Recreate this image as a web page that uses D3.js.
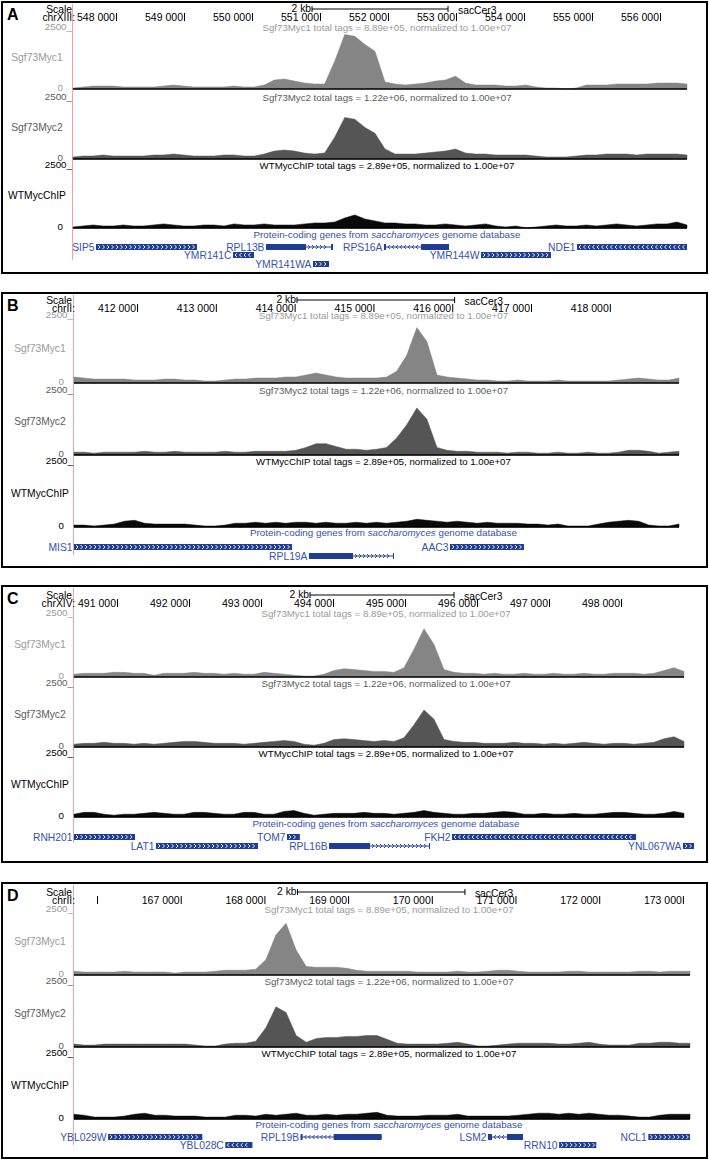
<!DOCTYPE html>
<html><head><meta charset="utf-8">
<script src="https://cdn.jsdelivr.net/npm/d3@7"></script>
<style>body{margin:0;background:#fff;} svg{display:block;}</style>
</head><body><svg id="c" width="709" height="1161"></svg>
<script>
// ---------------- data ----------------
const panelLetters = ["A", "B", "C", "D"];
const chromLabels = ["chrXIII:", "chrII:", "chrXIV:", "chrII:"];
const windowStarts = [547368, 411200, 490403, 165725];
const windowEnds = [556397, 418878, 498875, 173085];
const ticksA = [548000, 549000, 550000, 551000, 552000, 553000, 554000, 555000, 556000];
const ticksB = [412000, 413000, 414000, 415000, 416000, 417000, 418000];
const ticksC = [491000, 492000, 493000, 494000, 495000, 496000, 497000, 498000];
const ticksD = [166000, 167000, 168000, 169000, 170000, 171000, 172000, 173000];
const tickLabelsA = ["548 000", "549 000", "550 000", "551 000", "552 000", "553 000", "554 000", "555 000", "556 000"];
const tickLabelsB = ["412 000", "413 000", "414 000", "415 000", "416 000", "417 000", "418 000"];
const tickLabelsC = ["491 000", "492 000", "493 000", "494 000", "495 000", "496 000", "497 000", "498 000"];
const tickLabelsD = ["", "167 000", "168 000", "169 000", "170 000", "171 000", "172 000", "173 000"];
const scaleBarStarts = [550883, 414030, 493681, 168396];
const scaleBarLength = 2000;
const trackNames = ["Sgf73Myc1", "Sgf73Myc2", "WTMycChIP"];
const totalTags = ["8.89e+05", "1.22e+06", "2.89e+05"];
const normalizedTo = "1.00e+07";
const viewMax = 2500;

// signal values (normalized tags), evenly spaced bins across each window
const myc1A = [40,85,125,125,125,85,85,85,85,125,170,125,85,85,85,85,125,85,85,170,380,420,335,250,210,210,1180,2310,2230,1890,1600,295,210,170,210,250,335,380,545,250,170,170,170,125,125,170,85,40,40,0,40,170,170,170,210,210,210,210,250,250,250,210];
const myc2A = [85,125,125,170,125,125,125,125,170,170,210,170,125,125,125,170,170,125,125,210,335,380,335,250,210,250,925,1760,1680,1340,1090,420,210,210,210,250,295,335,420,250,210,210,170,170,170,170,125,85,85,85,125,170,170,210,210,210,170,210,210,210,210,170];
const wtA = [40,85,125,85,85,125,85,85,125,170,125,85,85,125,125,85,170,125,125,170,125,125,125,170,210,210,250,420,545,380,295,210,210,170,170,125,125,170,125,85,125,170,85,40,85,0,40,85,125,85,85,125,85,125,170,125,85,125,170,170,250,125];

const myc1B = [230,190,150,150,150,150,115,115,115,150,150,115,115,75,75,115,150,150,190,190,190,230,230,305,380,305,230,190,190,190,190,230,455,1065,2130,1595,305,230,190,150,115,115,75,75,115,75,75,75,115,75,75,75,75,75,115,150,190,150,115,115,190];
const myc2B = [115,115,75,115,115,115,115,150,115,115,150,115,115,115,115,150,115,115,150,150,150,150,190,305,455,455,340,230,230,190,230,305,685,1215,1900,1445,305,190,150,150,115,115,115,75,115,115,75,75,115,75,75,115,75,75,115,190,190,150,75,115,150];
const wtB = [75,75,40,75,115,230,265,150,115,115,115,115,75,40,40,75,150,150,190,150,190,150,190,190,150,190,150,150,190,150,190,150,190,230,305,265,230,190,230,190,150,190,150,150,150,115,115,75,115,40,40,40,115,190,230,265,230,75,40,40,115];

const myc1C = [115,150,150,150,190,190,150,150,75,150,150,150,190,150,150,115,150,115,115,190,150,115,75,40,40,115,265,340,305,265,230,230,190,380,1140,1975,1330,305,190,150,150,115,150,115,115,150,115,115,150,115,115,150,115,115,150,150,150,115,150,265,380,230];
const myc2C = [115,150,150,190,150,150,115,150,115,150,190,230,230,190,150,150,150,115,150,190,230,265,230,115,75,150,305,340,305,265,230,265,230,380,910,1520,1140,305,230,190,190,150,150,150,190,150,150,115,150,115,150,190,150,115,150,150,115,150,190,340,420,230];
const wtC = [115,190,190,115,75,115,115,150,190,150,115,115,190,190,150,115,115,190,190,115,115,230,265,150,75,115,150,150,150,190,150,150,115,150,190,265,190,150,115,115,150,150,190,230,190,115,115,150,115,115,150,115,115,150,190,190,150,115,115,150,230,150];

const myc1D = [150,115,115,115,115,150,115,115,115,115,75,115,115,115,150,190,190,190,230,610,1595,2050,990,340,305,305,305,265,190,150,150,150,150,150,115,115,115,115,150,115,115,150,190,190,150,115,115,115,115,150,150,115,115,115,115,115,150,150,115,150,150,150];
const myc2D = [115,75,75,115,115,115,115,115,115,115,115,115,75,40,40,115,150,150,230,760,1595,1370,455,190,340,380,380,420,420,455,455,305,150,115,115,115,115,150,190,115,40,40,75,115,150,150,150,150,115,115,150,190,115,75,75,75,150,150,190,190,150,150];
const wtD = [190,150,75,75,75,115,190,230,150,150,115,115,115,75,75,75,150,150,115,190,150,190,230,150,150,190,150,190,190,230,265,150,115,115,115,150,150,150,190,115,115,115,115,115,150,190,230,230,190,230,190,230,190,150,150,115,75,75,150,190,190,190];

const genesA = [
  {name: "SIP5", start: 547706, end: 549192, strand: "+", row: 0},
  {name: "YMR141C", start: 549721, end: 550030, strand: "-", row: 1},
  {name: "RPL13B", start: 550206, end: 551192, strand: "+", row: 0, exons: [[550206, 550794], [551163, 551192]]},
  {name: "YMR141WA", start: 550897, end: 551133, strand: "+", row: 2},
  {name: "RPS16A", start: 551941, end: 552897, strand: "-", row: 0, exons: [[551941, 551970], [552486, 552897]]},
  {name: "YMR144W", start: 553368, end: 554397, strand: "+", row: 1},
  {name: "NDE1", start: 554780, end: 556397, strand: "-", row: 0}
];
const genesB = [
  {name: "MIS1", start: 411100, end: 413967, strand: "+", row: 0},
  {name: "RPL19A", start: 414182, end: 415261, strand: "+", row: 1, exons: [[414182, 414741], [415248, 415261]]},
  {name: "AAC3", start: 415971, end: 416911, strand: "+", row: 0}
];
const genesC = [
  {name: "RNH201", start: 490300, end: 491250, strand: "+", row: 0},
  {name: "LAT1", start: 491542, end: 492959, strand: "+", row: 1},
  {name: "TOM7", start: 493361, end: 493540, strand: "+", row: 0},
  {name: "RPL16B", start: 493945, end: 495348, strand: "+", row: 1, exons: [[493945, 494514], [495334, 495348]]},
  {name: "FKH2", start: 495653, end: 498209, strand: "-", row: 0},
  {name: "YNL067WA", start: 498861, end: 499014, strand: "+", row: 1}
];
const genesD = [
  {name: "YBL029W", start: 166132, end: 167258, strand: "+", row: 0},
  {name: "YBL028C", start: 167533, end: 167857, strand: "-", row: 1},
  {name: "RPL19B", start: 168432, end: 169401, strand: "-", row: 0, exons: [[168432, 168456], [168827, 169401]]},
  {name: "LSM2", start: 170671, end: 171090, strand: "-", row: 0, exons: [[170671, 170719], [170899, 171090]]},
  {name: "RRN10", start: 171521, end: 171965, strand: "+", row: 1},
  {name: "NCL1", start: 172587, end: 173085, strand: "+", row: 0}
];

// ---------------- layout ----------------
const FONT = "'Liberation Sans', Arial, Helvetica, sans-serif";
const layouts = [
  {top: 2, bottom: 273, x0: 73, x1: 687, tops: [28, 98, 166], bases: [87, 157, 226], head: 0, geneTitle: 236, rows: [245, 253, 262], redEnd: 258, labelX: 37},
  {top: 293, bottom: 567, x0: 74, x1: 679, tops: [25, 100, 171], bases: [90, 162, 234], head: 0, geneTitle: 243, rows: [254, 263], redEnd: 262, labelX: 40},
  {top: 586, bottom: 862, x0: 74, x1: 684, tops: [30, 100, 170], bases: [91, 161, 231], head: 2, geneTitle: 241, rows: [251, 260], redEnd: 257, labelX: 40},
  {top: 883, bottom: 1158, x0: 74, x1: 690, tops: [29, 101, 173], bases: [92, 164, 236], head: 2, geneTitle: 245, rows: [254, 262], redEnd: 262, labelX: 40}
];
const trackFill = ["#858585", "#555555", "#0a0a0a"];
const trackText = ["#9a9a9a", "#5c5c5c", "#000000"];
const geneColor = "#1f3d95";
const geneText = "#3552ad";

const panels = [
  {ticks: ticksA, labels: tickLabelsA, tracks: [myc1A, myc2A, wtA], genes: genesA},
  {ticks: ticksB, labels: tickLabelsB, tracks: [myc1B, myc2B, wtB], genes: genesB},
  {ticks: ticksC, labels: tickLabelsC, tracks: [myc1C, myc2C, wtC], genes: genesC},
  {ticks: ticksD, labels: tickLabelsD, tracks: [myc1D, myc2D, wtD], genes: genesD}
];

const svg = d3.select("#c");
svg.append("rect").attr("width", 709).attr("height", 1161).attr("fill", "#fff");

function txt(g, x, y, s, opts) {
  const t = g.append("text").attr("x", x).attr("y", y).text(s)
    .attr("font-family", FONT).attr("font-size", (opts && opts.size) || 10)
    .attr("fill", (opts && opts.fill) || "#000")
    .attr("text-anchor", (opts && opts.anchor) || "start");
  if (opts && opts.weight) t.attr("font-weight", opts.weight);
  return t;
}

function chevron(g, cx, cy, dir, color) {
  const d = dir === "+" ? `M${cx - 1},${cy - 2}L${cx + 1},${cy}L${cx - 1},${cy + 2}`
                        : `M${cx + 1},${cy - 2}L${cx - 1},${cy}L${cx + 1},${cy + 2}`;
  g.append("path").attr("d", d).attr("fill", "none").attr("stroke", color).attr("stroke-width", 0.9);
}

panels.forEach((p, pi) => {
  const L = layouts[pi];
  const start = windowStarts[pi], end = windowEnds[pi];
  const g = svg.append("g");
  const x = d3.scaleLinear().domain([start, end]).range([L.x0, L.x1]);
  const cx = (L.x0 + L.x1) / 2 + 7;
  const hs = L.head;

  // frame
  g.append("rect").attr("x", 2).attr("y", L.top).attr("width", 705).attr("height", L.bottom - L.top)
    .attr("fill", "none").attr("stroke", "#000").attr("stroke-width", 2);

  // red left guide
  g.append("line").attr("x1", L.x0 - 0.5).attr("x2", L.x0 - 0.5).attr("y1", L.top + 2).attr("y2", L.top + L.redEnd)
    .attr("stroke", "#f2a0a0").attr("stroke-width", 1);

  // header
  txt(g, 7, L.top + 18, panelLetters[pi], {size: 16, weight: "bold"});
  txt(g, 72, L.top + 11 + hs, "Scale", {anchor: "end", size: 10.3});
  txt(g, 75, L.top + 19 + hs, chromLabels[pi], {anchor: "end", size: 10.3});

  const axis = d3.axisTop(x).tickValues(p.ticks).tickSize(8).tickFormat((d, i) => p.labels[i]);
  const axg = g.append("g").attr("transform", `translate(0,${L.top + 19 + hs})`).call(axis);
  axg.select(".domain").remove();
  axg.attr("font-family", FONT).attr("font-size", 10.5);
  axg.selectAll(".tick line").attr("stroke", "#000").attr("y2", -8);
  axg.selectAll(".tick text").attr("y", 0).attr("dy", 0).attr("x", -1.5).attr("text-anchor", "end").attr("fill", "#000");

  // scale bar
  const b0 = x(scaleBarStarts[pi]), b1 = x(scaleBarStarts[pi] + scaleBarLength);
  const by = L.top + 7 + hs;
  g.append("line").attr("x1", b0).attr("x2", b1).attr("y1", by).attr("y2", by).attr("stroke", "#000");
  g.append("line").attr("x1", b0).attr("x2", b0).attr("y1", by - 3).attr("y2", by + 3).attr("stroke", "#000");
  g.append("line").attr("x1", b1).attr("x2", b1).attr("y1", by - 3).attr("y2", by + 3).attr("stroke", "#000");
  txt(g, b0 - 1, L.top + 10 + hs, "2 kb", {anchor: "end", size: 10.3});
  txt(g, b1 + 10, L.top + 12 + hs, "sacCer3", {size: 10.3});

  // signal tracks
  p.tracks.forEach((vals, k) => {
    const top = L.top + L.tops[k], base = L.top + L.bases[k];
    const y = d3.scaleLinear().domain([0, viewMax]).range([base, top]);
    const n = vals.length;
    const pos = vals.map((v, i) => start + i * (end - start) / (n - 1));
    const area = d3.area().x((d, i) => x(pos[i])).y0(base).y1(d => y(d));
    g.append("path").datum(vals).attr("d", area).attr("fill", trackFill[k]).attr("stroke", trackFill[k]).attr("stroke-width", 0.5);
    g.append("line").attr("x1", L.x0).attr("x2", L.x1).attr("y1", base).attr("y2", base)
      .attr("stroke", "#000").attr("stroke-width", 1.6);
    txt(g, cx, top + 0.5, `${trackNames[k]} total tags = ${totalTags[k]}, normalized to ${normalizedTo}`,
      {anchor: "middle", size: 9.7, fill: trackText[k]});
    txt(g, L.x0 - 1, top, viewMax + "_", {anchor: "end", size: 9.8, fill: trackText[k]});
    txt(g, L.x0 - 10, base + 1.5, "0", {anchor: "end", size: 9.8, fill: trackText[k]});
    txt(g, L.labelX, (top + base) / 2 + 1, trackNames[k], {anchor: "middle", size: 10.3, fill: trackText[k]});
  });

  // gene track title
  const gt = g.append("text").attr("x", cx).attr("y", L.top + L.geneTitle).attr("text-anchor", "middle")
    .attr("font-family", FONT).attr("font-size", 9.8).attr("fill", geneText);
  gt.append("tspan").text("Protein-coding genes from ");
  gt.append("tspan").attr("font-style", "italic").text("saccharomyces");
  gt.append("tspan").text(" genome database");

  // genes
  p.genes.forEach(gene => {
    const cy = L.top + L.rows[gene.row];
    const s = Math.max(x(gene.start), L.x0), e = Math.min(x(gene.end), 700);
    const h = 6;
    if (gene.exons) {
      g.append("line").attr("x1", s).attr("x2", e).attr("y1", cy).attr("y2", cy).attr("stroke", geneColor).attr("stroke-width", 1);
      gene.exons.forEach(ex => {
        const a = x(ex[0]), bx = x(ex[1]);
        g.append("rect").attr("x", a).attr("y", cy - h / 2).attr("width", Math.max(1, bx - a)).attr("height", h).attr("fill", geneColor);
      });
      for (let i = 0; i < gene.exons.length - 1; i++) {
        const a = x(gene.exons[i][1]) + 3, bx = x(gene.exons[i + 1][0]) - 3;
        for (let c = a; c <= bx; c += 4) chevron(g, c, cy, gene.strand, geneColor);
      }
    } else {
      g.append("rect").attr("x", s).attr("y", cy - h / 2).attr("width", e - s).attr("height", h).attr("fill", geneColor);
      for (let c = s + 3; c <= e - 2; c += 4.5) chevron(g, c, cy, gene.strand, "#fff");
    }
    txt(g, s - 1.5, cy + 3.5, gene.name, {anchor: "end", size: 10.3, fill: geneText});
  });
});
</script>
</body></html>
